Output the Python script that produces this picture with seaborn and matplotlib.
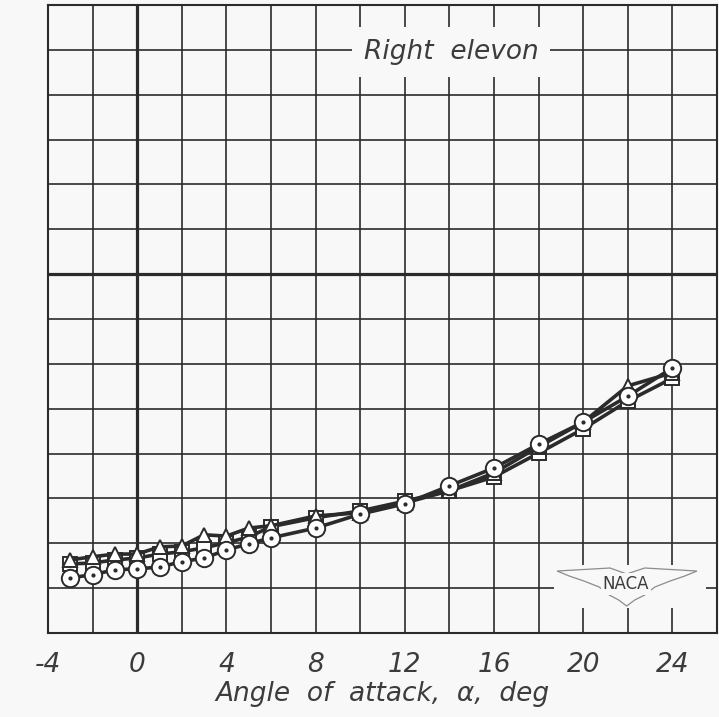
import numpy as np
import pandas as pd
import matplotlib
matplotlib.use("Agg")
import matplotlib.pyplot as plt
import seaborn as sns
from matplotlib.patches import Rectangle, Polygon

# Data (y in grid units, 0 = heavy reference line)
alpha = [-3, -2, -1, 0, 1, 2, 3, 4, 5, 6, 8, 10, 12, 14, 16, 18, 20, 22, 24]
circulo = [-6.77, -6.70, -6.59, -6.57, -6.53, -6.41, -6.33, -6.15, -6.01, -5.88,
           -5.66, -5.35, -5.12, -4.72, -4.32, -3.79, -3.30, -2.72, -2.09]
cuadrado = [-6.46, -6.44, -6.37, -6.33, -6.24, -6.19, -6.10, -5.99, -5.86, -5.63,
            -5.43, -5.28, -5.06, -4.83, -4.52, -3.99, -3.45, -2.83, -2.32]
triangulo = [-6.37, -6.30, -6.24, -6.24, -6.08, -6.06, -5.81, -5.84, -5.66, -5.61,
             -5.39, -5.32, -5.10, -4.83, -4.43, -3.85, -3.30, -2.49, -2.20]
xticks = [-4, 0, 4, 8, 12, 16, 20, 24]

df = pd.DataFrame({"alpha": alpha, "circulo": circulo,
                   "cuadrado": cuadrado, "triangulo": triangulo})

sns.set_style("white")
fondo = "#f8f8f8"
tinta = "#2b2b2b"
texto = "#3c3c3c"

fig = plt.figure(figsize=(7.19, 7.17), dpi=100, facecolor=fondo)
ax = fig.add_axes([48 / 719, 1 - 633 / 717, 669 / 719, 628 / 717])
ax.set_facecolor(fondo)

ax.set_xlim(-4, 26)
ax.set_ylim(-8, 6)

# cuadricula
for x in np.arange(-2, 26, 2):
    ax.axvline(x, color=tinta, lw=2.3 if x == 0 else 1.2, zorder=1)
for y in np.arange(-7, 6, 1):
    ax.axhline(y, color=tinta, lw=2.3 if y == 0 else 1.2, zorder=1)
for s in ax.spines.values():
    s.set_color(tinta)
    s.set_linewidth(1.5)

# series
sns.lineplot(data=df, x="alpha", y="cuadrado", ax=ax, color=tinta, lw=2.6,
             marker="s", markersize=10, markerfacecolor="white",
             markeredgecolor=tinta, markeredgewidth=1.4, zorder=3)
sns.lineplot(data=df, x="alpha", y="triangulo", ax=ax, color=tinta, lw=2.6,
             marker="^", markersize=10, markerfacecolor="white",
             markeredgecolor=tinta, markeredgewidth=1.4, zorder=4)
sns.lineplot(data=df, x="alpha", y="circulo", ax=ax, color=tinta, lw=2.6,
             marker="o", markersize=12.5, markerfacecolor="white",
             markeredgecolor=tinta, markeredgewidth=1.4, zorder=5)
ax.plot(df["alpha"], df["circulo"], ls="none", marker="o", markersize=2,
        color=tinta, zorder=6)

ax.set_xticks(xticks)
ax.set_xticklabels([str(t) for t in xticks], fontsize=19, style="italic",
                   color=texto)
ax.tick_params(axis="x", length=0, pad=14)
ax.set_yticks([])
ax.set_xlabel("Angle  of  attack,  α,  deg", fontsize=19, style="italic",
              color=texto, labelpad=2)
ax.set_ylabel("")

# titulo dentro de la cuadricula
ax.text((451 - 48) / 669, 1 - 47 / 628, "Right  elevon",
        transform=ax.transAxes, ha="center", va="center", fontsize=19,
        style="italic", color=texto, zorder=7,
        bbox=dict(boxstyle="square,pad=0.45", fc=fondo, ec="none"))

# logo NACA
ax.add_patch(Rectangle((0.757, 0.04), 0.226, 0.068, transform=ax.transAxes,
                       fc=fondo, ec="none", zorder=7))
ala = [(0.761, 0.0987), (0.840, 0.1035), (0.865, 0.094), (0.892, 0.1035),
       (0.970, 0.0987), (0.952, 0.0908), (0.930, 0.0828), (0.907, 0.0732),
       (0.892, 0.0605), (0.877, 0.0525), (0.865, 0.043), (0.853, 0.0525),
       (0.839, 0.0605), (0.824, 0.0732), (0.801, 0.0828), (0.779, 0.0908)]
ax.add_patch(Polygon(ala, closed=True, transform=ax.transAxes, fc="none",
                     ec="#8c8c8c", lw=0.9, zorder=8))
ax.text(0.864, 0.078, "NACA", transform=ax.transAxes, ha="center", va="center",
        fontsize=12, color=texto, zorder=9,
        bbox=dict(boxstyle="square,pad=0.1", fc=fondo, ec="none"))

fig.savefig("out.png", dpi=100, facecolor=fondo)
